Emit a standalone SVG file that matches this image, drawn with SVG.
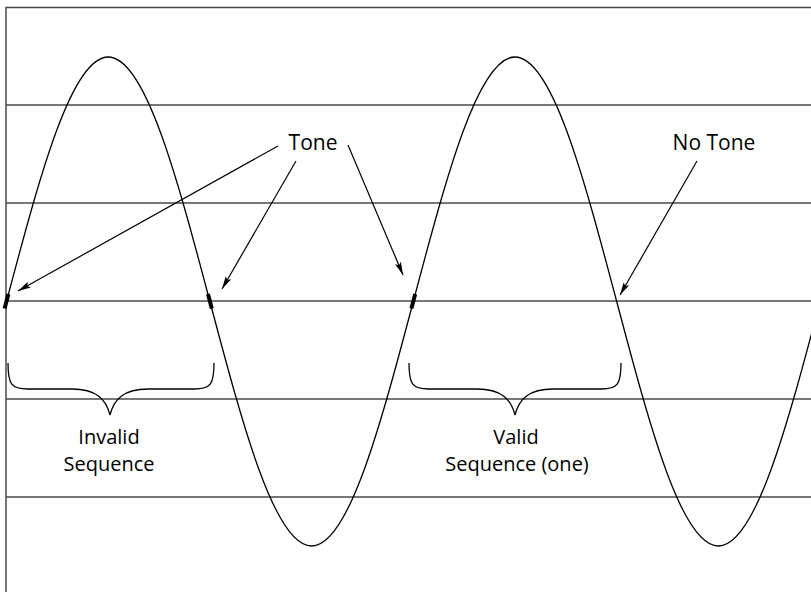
<svg xmlns="http://www.w3.org/2000/svg" width="811" height="592" viewBox="0 0 811 592">
<style>
.grid{stroke:#4a4a4a;stroke-width:1.5;fill:none}
.wave{stroke:#000;stroke-width:1.3;fill:none}
.mark{stroke:#000;stroke-width:4;fill:none}
.conn{stroke:#000;stroke-width:1.2;fill:none;marker-end:url(#ah)}
.brace{stroke:#000;stroke-width:1.3;fill:none}
text{font-family:"Open Sans","DejaVu Sans",sans-serif;font-size:21px;fill:#000;text-anchor:middle}
text.lbl{font-size:20px}
</style>
<defs>
<marker id="ah" markerUnits="userSpaceOnUse" markerWidth="14" markerHeight="8" viewBox="0 0 14 8" refX="13" refY="4" orient="auto">
<path d="M0,0.8 L13,4 L0,7.2 L2.5,4 z" fill="#000"/>
</marker>
</defs>
<rect width="811" height="592" fill="#fff"/>
<g id="frame">
<rect class="grid" x="6" y="7.5" width="830" height="620"/>
<line class="grid" x1="6" y1="105" x2="811" y2="105"/>
<line class="grid" x1="6" y1="203" x2="811" y2="203"/>
<line class="grid" x1="6" y1="301" x2="811" y2="301"/>
<line class="grid" x1="6" y1="399" x2="811" y2="399"/>
<line class="grid" x1="6" y1="497" x2="811" y2="497"/>
</g>
<g id="wave">
<path class="wave" d="M6.5,301.5 C39.67,176.24 71.39,57 108.2,57 C145.01,57 176.73,176.24 209.9,301.5 C243.07,426.76 274.79,546 311.6,546 C348.41,546 380.13,426.76 413.3,301.5 C446.47,176.24 478.19,57 515,57 C551.81,57 583.53,176.24 616.7,301.5 C649.87,426.76 681.59,546 718.4,546 C755.21,546 786.93,426.76 820.1,301.5"/>
<line class="mark" x1="4.6" y1="308.5" x2="8.4" y2="294"/>
<line class="mark" x1="208" y1="294" x2="211.8" y2="308.5"/>
<line class="mark" x1="411.4" y1="308.5" x2="415.2" y2="294"/>
</g>
<g id="tone">
<text x="313" y="150">Tone</text>
</g>
<g id="notone">
<text x="714" y="150">No Tone</text>
</g>
<g id="invalid">
<path class="brace" d="M8,363 C8,384 11,389 28,389 H72 C96,389 106,399 110,415 C114,399 124,389 148,389 H194 C211,389 214,384 214,363"/>
<text class="lbl" x="109" y="444">Invalid</text>
<text class="lbl" x="109" y="471">Sequence</text>
</g>
<g id="valid">
<path class="brace" d="M409,363 C409,384 412,389 429,389 H477 C501,389 511,399 515,415 C519,399 529,389 553,389 H601 C618,389 621,384 621,363"/>
<text class="lbl" x="516" y="444">Valid</text>
<text class="lbl" x="517" y="471">Sequence (one)</text>
</g>
<g id="connectors">
<line class="conn" x1="278" y1="146" x2="18" y2="291"/>
<line class="conn" x1="296" y1="161" x2="222" y2="289"/>
<line class="conn" x1="348" y1="145" x2="403" y2="275"/>
<line class="conn" x1="697" y1="161" x2="620" y2="295"/>
</g>
</svg>
